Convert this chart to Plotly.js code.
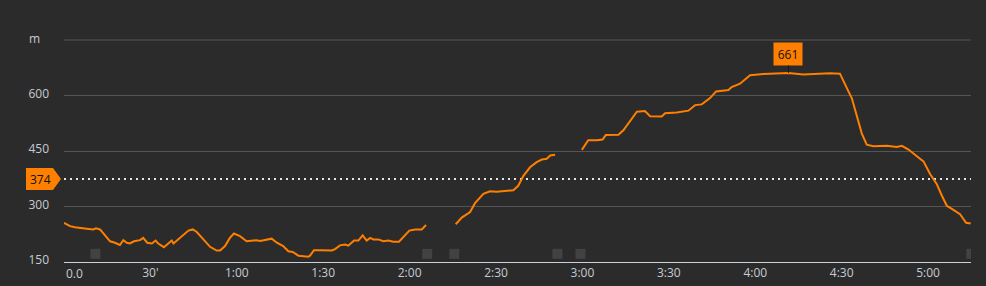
<!DOCTYPE html>
<html>
<head>
<meta charset="utf-8">
<script src="https://cdn.plot.ly/plotly-3.0.1.min.js"></script>
<style>
  html, body { margin: 0; padding: 0; background: #2b2b2b; }
  #chart { width: 986px; height: 286px; }
</style>
</head>
<body>
<div id="chart"></div>
<script>
// Elapsed time in minutes; null elevation = gap in recording
const timeMin = [
  0, 2.1, 3.8, 5.6, 7.9, 10.2, 11.1, 12.5, 14.2, 16.0, 17.7, 19.4, 20.6, 21.8, 22.9, 24.3, 26.4, 27.5, 28.9,
  30.5, 31.8, 32.7, 34.7, 35.9, 37.4, 38.0, 39.3, 40.9, 43.2, 44.7, 46.1, 48.4, 50.7, 53.0, 54.2, 55.9, 57.6,
  59.0, 61.1, 63.4, 65.2, 66.9, 68.1, 70.4, 72.1, 73.9, 76.1, 77.9, 79.4, 81.4, 83.1, 84.8, 85.4, 86.8, 88.9,
  93.0, 94.1, 95.8, 97.6, 98.7, 100.7, 102.2, 103.7, 105.1, 106.3, 107.4, 109.1, 110.9, 112.6, 114.3, 116.3,
  117.8, 119.9, 121.9, 124.2, 125.7,
  130.8,
  136.0, 138.1, 141.0, 142.7, 145.6, 147.9, 150.2, 153.7, 156.0, 157.7, 159.5, 161.8, 164.1, 165.9, 167.6,
  168.8, 170.5,
  175.0,
  179.8, 182.0, 185.0, 187.0, 188.1, 192.5, 194.2, 196.5, 198.9, 201.7, 203.5, 207.5, 208.7, 212.7, 216.8,
  219.1, 221.4, 224.3, 226.4, 230.7, 231.8, 234.7, 236.5, 238.2, 242.8, 246.3, 251.5, 256.7, 262.5, 266.0,
  269.4, 270.6, 272.3, 273.5, 275.2, 277.0, 278.7, 281.0, 285.7, 289.1, 290.9, 293.2, 296.1, 298.4, 300.7,
  303.0, 304.8, 306.5, 308.8, 311.1, 313.2, 314.8
];
const elevM = [
  256, 247, 244, 243, 240, 238, 241, 238, 222, 206, 202, 196, 209, 202, 200, 206, 209, 215, 202,
  200, 208, 200, 190, 197, 208, 200, 209, 220, 235, 238, 231, 211, 191, 181, 181, 193, 215,
  227, 220, 206, 208, 209, 207, 211, 213, 202, 193, 179, 177, 167, 165, 164, 167, 182, 182,
  181, 185, 195, 197, 194, 208, 208, 222, 208, 215, 211, 211, 206, 208, 205, 205,
  217, 235, 238, 238, 250,
  null,
  252, 270, 285, 309, 334, 341, 340, 343, 344, 356, 383, 406, 420, 427, 429,
  438, 440,
  null,
  453, 479, 479, 481, 493, 494, 506, 529, 556, 558, 544, 543, 552, 554, 559,
  574, 576, 593, 611, 615, 623, 632, 643, 655, 658, 660, 661, 657, 659, 660,
  659, 638, 612, 593, 543, 497, 467, 463, 464, 461, 464, 454, 436, 422, 388,
  361, 329, 302, 291, 279, 256, 254
];
const avgElev = 374;
const markerTimes = [10.9, 126.1, 135.5, 171.3, 179.3, 315];
const xTickVals = [0, 30, 60, 90, 120, 150, 180, 210, 240, 270, 300];
const xTickText = ['', "30'", '1:00', '1:30', '2:00', '2:30', '3:00', '3:30', '4:00', '4:30', '5:00'];
const yTickVals = [150, 300, 450, 600, 750];
const yTickText = ['150', '300', '450', '600', ''];
const yTop = 750;

const ORANGE = '#ff7f00';
const LABEL = '#c6ccd4';
const GRID = '#555555';
const FONT = '"Open Sans", "DejaVu Sans", sans-serif';

let iMax = 0;
elevM.forEach((v, i) => { if (v !== null && v > elevM[iMax]) iMax = i; });

const traces = [
  {
    x: markerTimes,
    y: markerTimes.map(() => 172),
    type: 'scatter', mode: 'markers',
    marker: { symbol: 'square', size: 10, color: '#424242', line: { width: 0 } },
    hoverinfo: 'skip', cliponaxis: true
  },
  {
    x: timeMin, y: elevM,
    type: 'scatter', mode: 'lines',
    connectgaps: false,
    line: { color: ORANGE, width: 2 },
    hoverinfo: 'skip'
  }
];

const layout = {
  width: 986, height: 286,
  paper_bgcolor: '#2b2b2b', plot_bgcolor: '#2b2b2b',
  margin: { l: 64, r: 15, t: 39, b: 24 },
  showlegend: false,
  font: { family: FONT, size: 12, color: LABEL },
  xaxis: {
    range: [0, 314.9], tickvals: xTickVals, ticktext: xTickText,
    showgrid: false, zeroline: false, showline: true, linecolor: '#cdd2d8', linewidth: 1,
    ticks: '', tickfont: { family: FONT, size: 12, color: LABEL }, fixedrange: true
  },
  yaxis: {
    range: [150, 752.7], tickvals: yTickVals, ticktext: yTickText,
    showgrid: true, gridcolor: GRID, gridwidth: 1, zeroline: false, showline: false,
    ticks: '', ticklabelstandoff: 14, ticklabelshift: -2,
    tickfont: { family: FONT, size: 12, color: LABEL }, fixedrange: true
  },
  shapes: [
    {
      type: 'line', xref: 'paper', x0: 0, x1: 1, yref: 'y', y0: yTop, y1: yTop,
      line: { color: GRID, width: 1 }, layer: 'below'
    },
    {
      type: 'line', xref: 'paper', x0: 0, x1: 1, yref: 'y', y0: avgElev, y1: avgElev,
      line: { color: '#e6e6e6', width: 2, dash: '2px,4px' }, layer: 'below'
    },
    {
      type: 'path', xref: 'paper', xsizemode: 'pixel', xanchor: 0,
      yref: 'y', ysizemode: 'pixel', yanchor: avgElev,
      path: 'M-38,-11 L-11,-11 L-3,0 L-11,11 L-38,11 Z',
      fillcolor: ORANGE, line: { width: 0 }, layer: 'above'
    }
  ],
  annotations: [
    {
      xref: 'paper', x: 0, yref: 'y', y: yTop, xanchor: 'left', xshift: -37, yshift: 2,
      text: 'm', showarrow: false, font: { family: FONT, size: 12, color: LABEL }
    },
    {
      xref: 'x', x: 0, yref: 'paper', y: 0, xanchor: 'left', yanchor: 'top', yshift: -1,
      text: '0.0', showarrow: false, font: { family: FONT, size: 12, color: LABEL }
    },
    {
      xref: 'paper', x: 0, yref: 'y', y: avgElev, xanchor: 'center', xshift: -24,
      text: String(avgElev), showarrow: false, font: { family: FONT, size: 12, color: '#111' }
    },
    {
      xref: 'x', x: timeMin[iMax], yref: 'y', y: elevM[iMax],
      text: String(elevM[iMax]), showarrow: true, arrowhead: 0, arrowwidth: 1, arrowcolor: '#1a1a1a',
      ax: 0, ay: -19, standoff: 0,
      bgcolor: ORANGE, width: 24, height: 18, borderpad: 2,
      font: { family: FONT, size: 12, color: '#111' }
    }
  ]
};

Plotly.newPlot('chart', traces, layout, { displayModeBar: false, staticPlot: true });
</script>
</body>
</html>
